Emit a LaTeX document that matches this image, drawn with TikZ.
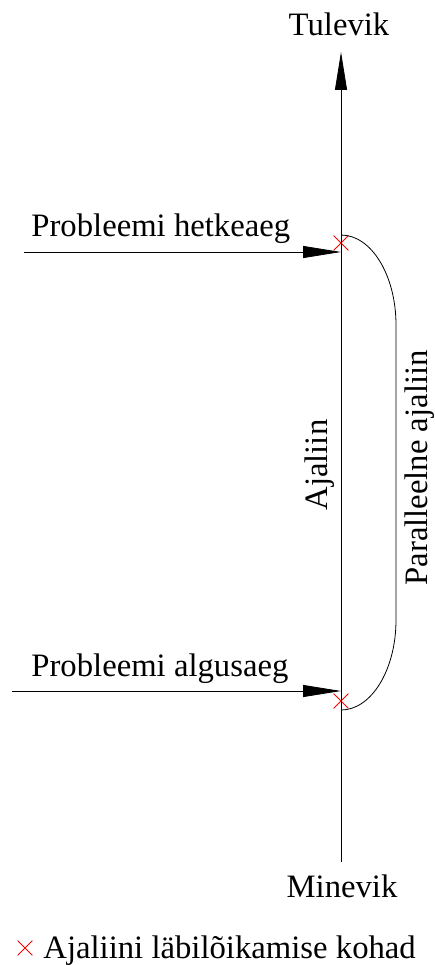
\documentclass[tikz,border=0pt]{standalone}
\usepackage{fontspec}
\setmainfont{Liberation Serif}
\usepackage{xcolor}
\usepackage{tikz}
\usetikzlibrary{arrows.meta, shapes.misc}

\begin{document}
\begin{tikzpicture}[x=1pt, y=1pt, line width=0.8pt,
        >={Triangle[length=38pt, width=12pt]},
        every node/.style={inner sep=0pt, font=\fontsize{32.7}{39}\selectfont},
        crossmark/.style={cross out, draw=red, minimum size=14pt, line width=0.8pt}]
        \useasboundingbox (0,0) rectangle (434,-965);

        % ajatelg
        \coordinate (past)   at (341,-862);
        \coordinate (future) at (341,-52);
        \node[anchor=base] (tul) at (339,-36)  {Tulevik};
        \node[anchor=base] (min) at (342,-897) {Minevik};
        \node[anchor=base, rotate=90] (aja) at (327,-465) {Ajaliin};

        % probleemi ajad
        \coordinate (hstart) at (24,-252);
        \coordinate (hend)   at (341,-252);
        \coordinate (astart) at (12,-691);
        \coordinate (aend)   at (341,-691);
        \node[anchor=base west] (het) at (31,-237) {Probleemi hetkeaeg};
        \node[anchor=base west] (alg) at (31,-676) {Probleemi algusaeg};

        % paralleelne ajaliin
        \coordinate (ptop) at (341,-235);
        \coordinate (pbot) at (341,-710);
        \node[anchor=base, rotate=90] (par) at (427,-468) {Paralleelne ajaliin};

        \node[crossmark] (x1) at (341,-243) {};
        \node[crossmark] (x2) at (341,-701) {};

        \path[->]
        (past) edge (future)
        (hstart) edge (hend)
        (astart) edge (aend);

        \draw (ptop) arc[start angle=90, end angle=0, x radius=55, y radius=90]
              -- ++(0,-295)
              arc[start angle=0, end angle=-90, x radius=55, y radius=90] -- (pbot);

        % legend
        \node[crossmark] (lx) at (25,-948) {};
        \node[anchor=base west] (leg) at (43,-958) {Ajaliini läbilõikamise kohad};
    \end{tikzpicture}
\end{document}
